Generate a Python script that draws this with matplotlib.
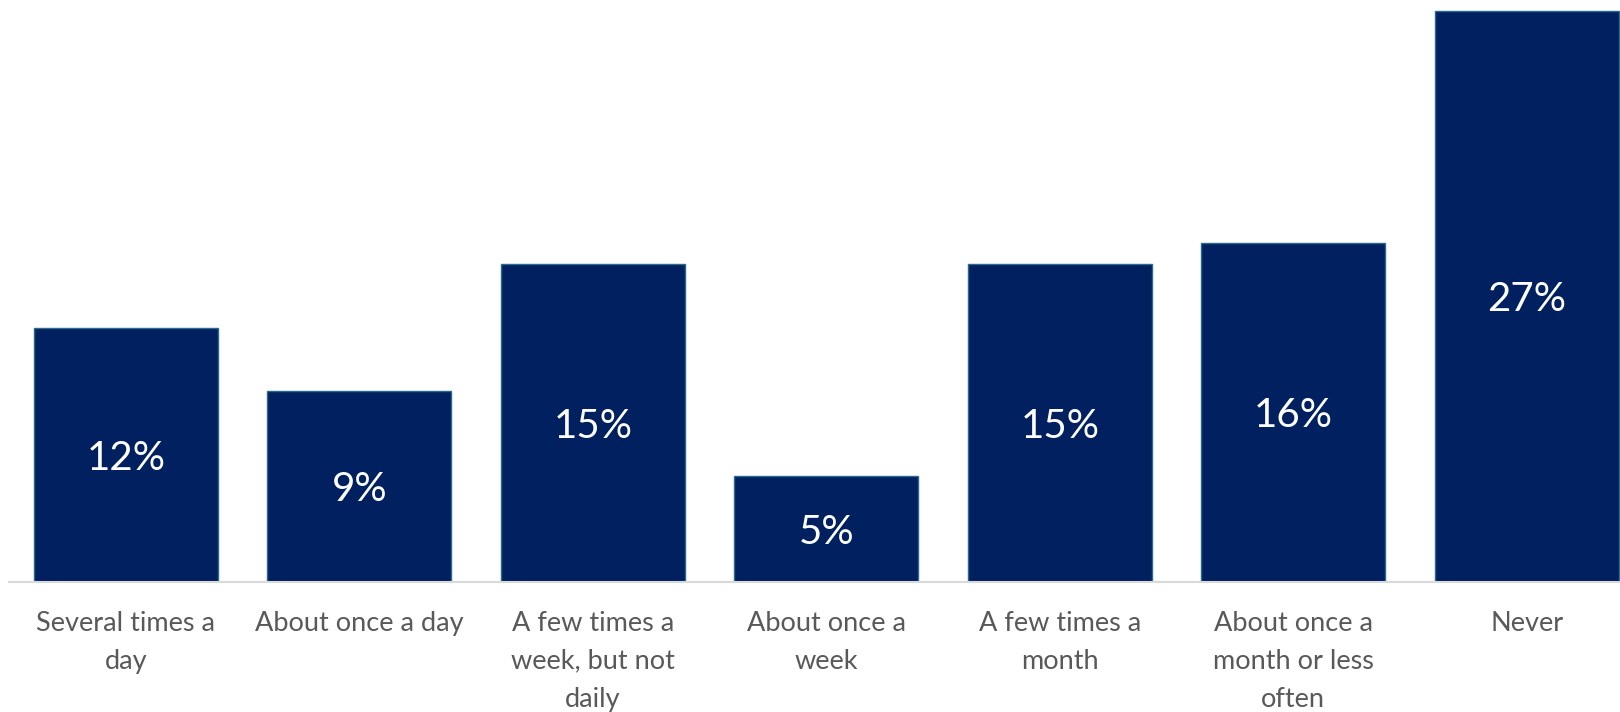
import matplotlib
matplotlib.use("Agg")
import matplotlib.pyplot as plt

# Datos
categorias = ["Several times a\nday", "About once a day", "A few times a\nweek, but not\ndaily",
              "About once a\nweek", "A few times a\nmonth", "About once a\nmonth or less\noften",
              "Never"]
valores = [12, 9, 15, 5, 15, 16, 27]
etiquetas = ["12%", "9%", "15%", "5%", "15%", "16%", "27%"]

plt.rcParams['font.family'] = ['Lato', 'DejaVu Sans']

fig = plt.figure(figsize=(16.2, 7.12), dpi=100)
ax = fig.add_axes([9 / 1620, 130.5 / 712, 1611 / 1620, 581.5 / 712])

x = list(range(len(categorias)))
barras = ax.bar(x, valores, width=0.79, color='#002060', edgecolor='#2a6a8a', linewidth=1.0)

for xi, v, t in zip(x, valores, etiquetas):
    ax.text(xi, v / 2, t, ha='center', va='center_baseline', color='white', fontsize=29)

ax.set_xlim(-0.5, -0.5 + 1611 / 233.5)
ax.set_ylim(0, 27.5)
ax.set_xticks(x)
ax.set_xticklabels(categorias, fontsize=19.5, color='#595959', linespacing=1.65)
ax.tick_params(axis='x', length=0, pad=21)
ax.set_yticks([])

for s in ['top', 'right', 'left']:
    ax.spines[s].set_visible(False)
ax.spines['bottom'].set_color('#d9d9d9')
ax.spines['bottom'].set_linewidth(1.5)

fig.savefig("out.png", dpi=100)
